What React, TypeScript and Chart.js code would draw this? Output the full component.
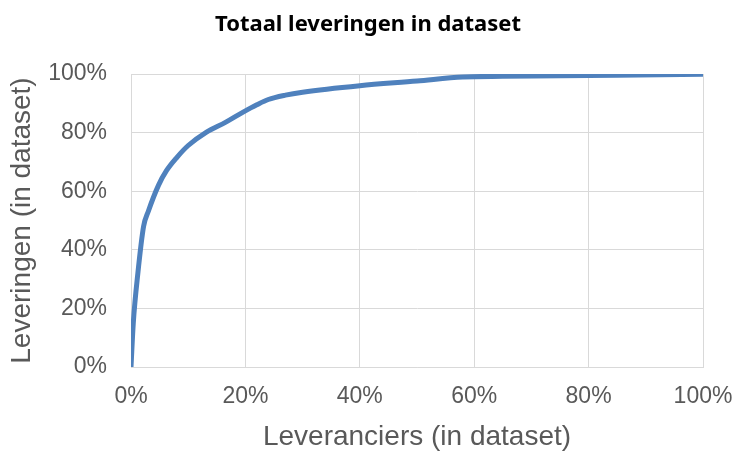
import React, { useEffect, useRef } from "react";
import { Chart, registerables } from "chart.js";

Chart.register(...registerables);

const titleText = "Totaal leveringen in dataset";
const xAxisTitle = "Leveranciers (in dataset)";
const yAxisTitle = "Leveringen (in dataset)";

const supplierShare = [0, 0.4, 1.2, 2.2, 3.0, 4.8, 6.2, 8, 10, 13.2, 16.5, 19.6, 22, 24, 27, 30, 40, 50, 58, 65, 75, 85, 100];
const deliveryShare = [0, 15, 32, 48, 53, 62, 67, 71.5, 75.6, 80.2, 83.5, 87, 89.5, 91.3, 92.8, 93.8, 96, 97.6, 99, 99.2, 99.4, 99.6, 99.9];

export default function App() {
  const ref = useRef<HTMLCanvasElement | null>(null);

  useEffect(() => {
    document.body.style.margin = "0";
    const ctx = ref.current!;
    const points = supplierShare.map((x, i) => ({ x, y: deliveryShare[i] }));
    const tickFont = { family: "'Liberation Sans', Arial, sans-serif", size: 23 };
    const axisTitleFont = { family: "'Liberation Sans', Arial, sans-serif", size: 28, lineHeight: 1 };
    const chart = new Chart(ctx, {
      type: "line",
      data: {
        datasets: [
          {
            data: points,
            borderColor: "#4f81bd",
            borderWidth: 5,
            pointRadius: 0,
            cubicInterpolationMode: "monotone",
            fill: false,
          },
        ],
      },
      options: {
        animation: false,
        responsive: false,
        maintainAspectRatio: false,
        layout: { padding: { left: 0, right: 0, top: 0, bottom: 0 } },
        plugins: {
          legend: { display: false },
          tooltip: { enabled: false },
          title: {
            display: true,
            text: titleText,
            color: "#000000",
            font: { family: "'Noto Sans', sans-serif", size: 22, weight: "bold", lineHeight: 1.2 },
            padding: { top: 12, bottom: 35.6 },
          },
        },
        scales: {
          x: {
            type: "linear",
            min: 0,
            max: 100,
            ticks: {
              stepSize: 20,
              color: "#595959",
              font: tickFont,
              padding: 16,
              maxRotation: 0,
              callback: (v: any) => v + "%",
            },
            grid: { color: "#d9d9d9", drawTicks: false, lineWidth: 1 },
            border: { color: "#d9d9d9" },
            title: {
              display: true,
              text: xAxisTitle,
              color: "#595959",
              font: axisTitleFont,
              padding: { top: 0, bottom: 0 },
            },
            afterFit: (s: any) => {
              s.height = 84;
              s.paddingRight = 33;
              s.paddingLeft = 0;
            },
          },
          y: {
            min: 0,
            max: 100,
            ticks: {
              stepSize: 20,
              color: "#595959",
              font: tickFont,
              padding: 24,
              callback: (v: any) => v + "%",
            },
            grid: { color: "#d9d9d9", drawTicks: false, lineWidth: 1 },
            border: { color: "#d9d9d9" },
            title: {
              display: true,
              text: yAxisTitle,
              color: "#595959",
              font: axisTitleFont,
              padding: { top: 8, bottom: 0 },
            },
            afterFit: (s: any) => {
              s.width = 131;
              s.paddingTop = 0;
              s.paddingBottom = 0;
            },
          },
        },
      },
    } as any);
    return () => chart.destroy();
  }, []);

  return (
    <div style={{ position: "absolute", left: 0, top: 0, width: 736, height: 451, background: "#fff" }}>
      <canvas ref={ref} width={736} height={451} style={{ display: "block" }} />
    </div>
  );
}
